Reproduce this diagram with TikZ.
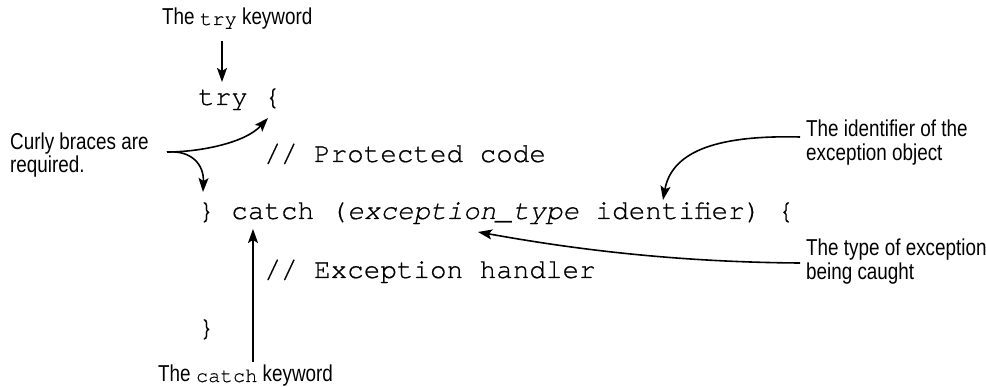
\documentclass[tikz,border=0pt]{standalone}
\usepackage{fontspec}
\setmainfont{Liberation Sans}[FakeStretch=0.82]
\setmonofont{TeX Gyre Cursor}[FakeBold=0.6]
\newfontfamily\labmono{TeX Gyre Cursor}[FakeBold=0.4]
\usetikzlibrary{arrows.meta}
\begin{document}
\begin{tikzpicture}[x=1pt,y=-1pt,
  lab/.style={font=\fontsize{23}{25}\selectfont, anchor=base west, inner sep=0pt},
  code/.style={font=\fontsize{27.6}{30}\selectfont\ttfamily, anchor=base west, inner sep=0pt},
  arr/.style={line width=1.6pt, -{Stealth[length=14pt,width=10pt,inset=3pt]}}]
\newcommand\lmono[1]{{\labmono\fontsize{20.5}{22}\selectfont #1}}
\useasboundingbox (0,0) rectangle (986,387);
% code
\node[code] (l1) at (198,105) {try \{};
\node[code] (l2) at (198,162) {\phantom{0000}// Protected code};
\node[code] (l3) at (198,219) {\} catch (\textit{exception\_type} identifier) \{};
\node[code] (l4) at (198,278) {\phantom{0000}// Exception handler};
\node[code] (l5) at (198,336) {\}};
% labels
\node[lab] (trylab) at (162,25) {The \lmono{try} keyword};
\node[lab] (catchlab) at (158,382) {The \lmono{catch} keyword};
\node[lab] (cbA) at (10,150) {Curly braces are};
\node[lab] (cbB) at (10,173) {required.};
\node[lab] (idA) at (806,137) {The identifier of the};
\node[lab] (idB) at (806,161) {exception object};
\node[lab] (tyA) at (806,256) {The type of exception};
\node[lab] (tyB) at (806,280) {being caught};
% connector end points
\coordinate (trys) at (222,41);
\coordinate (tryt) at (222,82);
\coordinate (cats) at (253,362);
\coordinate (catt) at (253,229);
\coordinate (cbs) at (167,152);
\coordinate (cbt1) at (268,118);
\coordinate (cbt2) at (203,192);
\coordinate (ids) at (800,137);
\coordinate (idt) at (663,200);
\coordinate (tys) at (800,263);
\coordinate (tyt) at (478,232);
% connectors
\draw[arr] (trys) -- (tryt);
\draw[arr] (cats) -- (catt);
\draw[arr] (cbs) .. controls (200,152) and (245,143) .. (cbt1);
\draw[arr] (cbs) .. controls (192,150) and (204,165) .. (cbt2);
\draw[arr] (ids) .. controls (720,135) and (672,150) .. (idt);
\draw[arr] (tys) .. controls (650,262) and (540,243) .. (tyt);
\end{tikzpicture}
\end{document}
